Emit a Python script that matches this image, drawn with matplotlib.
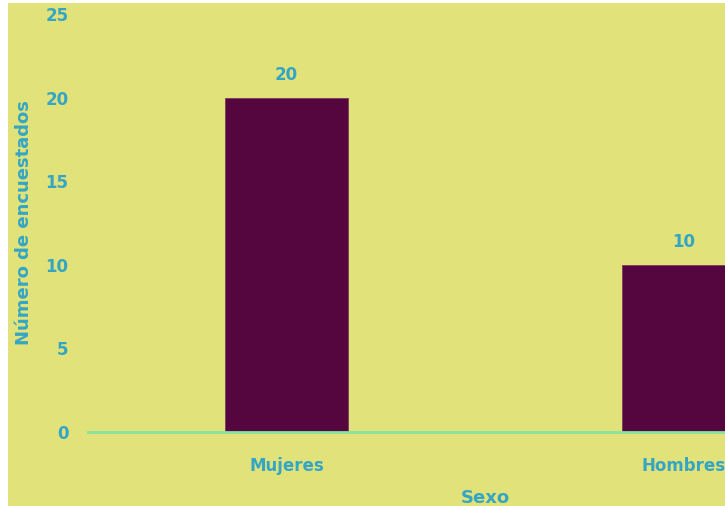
import matplotlib.pyplot as plt
from matplotlib.patches import Rectangle

categorias = ['Mujeres', 'Hombres']
encuestados = [20, 10]
yticks = [0, 5, 10, 15, 20, 25]

fondo = '#e2e27a'
barra = '#55063f'
texto = '#34a6c4'
eje = '#86e3a0'

W, H = 725, 509
fig = plt.figure(figsize=(W / 100, H / 100), dpi=100, facecolor='white')
fig.patches.append(Rectangle((8 / W, 3 / H), 1, (506 - 3) / H, transform=fig.transFigure,
                             facecolor=fondo, edgecolor='none', zorder=-1))

# the plot area runs past the right edge of the figure
ax = fig.add_axes([88 / W, (H - 432) / H, 794 / W, 418 / H])
ax.set_facecolor('none')

x = list(range(len(categorias)))
bars = ax.bar(x, encuestados, width=0.31, color=barra, edgecolor='#7a3a5a', linewidth=0.6)
ax.set_xlim(-0.5, 1.5)
ax.set_ylim(0, 25)

for b, v in zip(bars, encuestados):
    ax.annotate(str(v), (b.get_x() + b.get_width() / 2, v), xytext=(0, 10),
                textcoords='offset points', ha='center', va='bottom',
                fontsize=12, fontweight='bold', color=texto)

ax.set_xticks(x)
ax.set_xticklabels(categorias)
ax.set_yticks(yticks)
ax.tick_params(length=0, labelsize=12, labelcolor=texto, pad=14)
for lab in ax.get_xticklabels() + ax.get_yticklabels():
    lab.set_fontweight('bold')
ax.tick_params(axis='x', pad=18)

for s in ['top', 'right', 'left']:
    ax.spines[s].set_visible(False)
ax.spines['bottom'].set_color(eje)
ax.spines['bottom'].set_linewidth(2)

ax.set_xlabel('Sexo', fontsize=13, fontweight='bold', color=texto, labelpad=10)
ax.set_ylabel('Número de encuestados', fontsize=13, fontweight='bold', color=texto, labelpad=9)

fig.savefig('out.png', dpi=100, facecolor='white')
